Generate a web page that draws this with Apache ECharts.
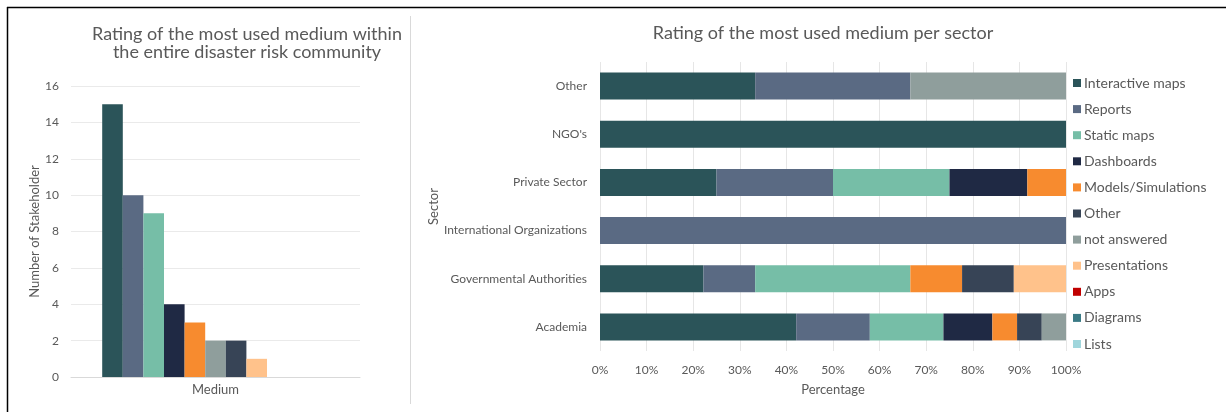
<!DOCTYPE html>
<html>
<head>
<meta charset="utf-8">
<script src="https://cdn.jsdelivr.net/npm/echarts@6/dist/echarts.min.js"></script>
<style>
  html, body { margin: 0; padding: 0; background: #ffffff; }
  #chart { width: 1226px; height: 412px; }
</style>
</head>
<body>
<div id="chart"></div>
<script>
// Media types (series) and their colours
const mediaNames = ['Interactive maps', 'Reports', 'Static maps', 'Dashboards', 'Models/Simulations',
  'Other', 'not answered', 'Presentations', 'Apps', 'Diagrams', 'Lists'];
const mediaColors = ['#2b5459', '#5a6a83', '#76bea7', '#1f2944', '#f78b2f',
  '#374456', '#8f9e9c', '#ffc28b', '#c00000', '#3a7a85', '#a0d6dc'];

// Left chart: number of stakeholders per medium (bar order as drawn)
const overallOrder = ['Interactive maps', 'Reports', 'Static maps', 'Dashboards', 'Models/Simulations',
  'not answered', 'Other', 'Presentations', 'Apps', 'Diagrams', 'Lists'];
const overallCounts = [15, 10, 9, 4, 3, 2, 2, 1, 0, 0, 0];
const countTicks = { min: 0, max: 16, interval: 2 };

// Right chart: share (%) of each medium per sector, bottom to top
const sectors = ['Academia', 'Governmental Authorities', 'International Organizations',
  'Private Sector', "NGO's", 'Other'];
const interactiveMaps = [42.1, 22.2, 0, 25, 100, 33.3];
const reports         = [15.8, 11.1, 100, 25, 0, 33.3];
const staticMaps      = [15.8, 33.3, 0, 25, 0, 0];
const dashboards      = [10.5, 0, 0, 16.7, 0, 0];
const models          = [5.3, 11.1, 0, 8.3, 0, 0];
const otherMedium     = [5.3, 11.1, 0, 0, 0, 0];
const notAnswered     = [5.2, 0, 0, 0, 0, 33.4];
const presentations   = [0, 11.2, 0, 0, 0, 0];
const apps            = [0, 0, 0, 0, 0, 0];
const diagrams        = [0, 0, 0, 0, 0, 0];
const lists           = [0, 0, 0, 0, 0, 0];
const sectorShares = [interactiveMaps, reports, staticMaps, dashboards, models,
  otherMedium, notAnswered, presentations, apps, diagrams, lists];

const FONT = 'Lato, "Open Sans", sans-serif';
const TXT = '#595959';
const colorOf = name => mediaColors[mediaNames.indexOf(name)];

const series = [];
overallOrder.forEach((name, i) => {
  series.push({
    type: 'bar', name: name, xAxisIndex: 0, yAxisIndex: 0,
    data: [overallCounts[i]], barWidth: 20.6, barGap: '0%',
    itemStyle: { color: colorOf(name) }, silent: true
  });
});
mediaNames.forEach((name, i) => {
  series.push({
    type: 'bar', name: name, xAxisIndex: 1, yAxisIndex: 1, stack: 'sector',
    data: sectorShares[i], barCategoryGap: '44%',
    itemStyle: { color: mediaColors[i] }, silent: true
  });
});

const chart = echarts.init(document.getElementById('chart'), null, { renderer: 'canvas' });
chart.setOption({
  animation: false,
  textStyle: { fontFamily: FONT, color: TXT },
  title: [
    { text: 'Rating of the most used medium within\nthe entire disaster risk community',
      left: 242, top: 20, textAlign: 'center',
      textStyle: { fontFamily: FONT, fontSize: 18, fontWeight: 'normal', color: TXT, lineHeight: 18 } },
    { text: 'Rating of the most used medium per sector',
      left: 818, top: 19, textAlign: 'center',
      textStyle: { fontFamily: FONT, fontSize: 18, fontWeight: 'normal', color: TXT } }
  ],
  legend: {
    orient: 'vertical', left: 1068, top: 71,
    itemWidth: 8, itemHeight: 8, itemGap: 12.1, icon: 'rect',
    data: mediaNames,
    textStyle: { fontFamily: FONT, fontSize: 14, color: TXT, padding: [0, 0, 0, -2] },
    selectedMode: false
  },
  grid: [
    { left: 71, top: 86, width: 289, height: 291 },
    { left: 600, top: 62, width: 466, height: 289 }
  ],
  xAxis: [
    { type: 'category', gridIndex: 0, data: ['Medium'],
      axisLine: { lineStyle: { color: '#d9d9d9' } }, axisTick: { show: false },
      axisLabel: { fontFamily: FONT, fontSize: 13, color: TXT, margin: 6 } },
    { type: 'value', gridIndex: 1, min: 0, max: 100, interval: 10,
      name: 'Percentage', nameLocation: 'middle', nameGap: 32,
      nameTextStyle: { fontFamily: FONT, fontSize: 13, color: TXT },
      axisLine: { show: false }, axisTick: { show: false },
      splitLine: { lineStyle: { color: '#e6e6e6' } },
      axisLabel: { formatter: '{value}%', fontFamily: FONT, fontSize: 12, color: TXT, margin: 13 } }
  ],
  yAxis: [
    { type: 'value', gridIndex: 0, min: countTicks.min, max: countTicks.max, interval: countTicks.interval,
      name: 'Number of Stakeholder', nameLocation: 'middle', nameGap: 30, nameRotate: 90,
      nameTextStyle: { fontFamily: FONT, fontSize: 13, color: TXT },
      axisLine: { show: false }, axisTick: { show: false },
      splitLine: { lineStyle: { color: '#eaeaea' } },
      axisLabel: { fontFamily: FONT, fontSize: 12, color: TXT, margin: 12 } },
    { type: 'category', gridIndex: 1, data: sectors,
      name: 'Sector', nameLocation: 'middle', nameGap: 153, nameRotate: 90,
      nameTextStyle: { fontFamily: FONT, fontSize: 13, color: TXT },
      axisLine: { show: false }, axisTick: { show: false },
      axisLabel: { fontFamily: FONT, fontSize: 12, color: TXT, margin: 13 } }
  ],
  graphic: [
    { type: 'line', shape: { x1: 7, y1: 7.5, x2: 1226, y2: 7.5 }, style: { stroke: '#000', lineWidth: 1.5 }, silent: true },
    { type: 'line', shape: { x1: 7.5, y1: 7, x2: 7.5, y2: 412 }, style: { stroke: '#000', lineWidth: 1.5 }, silent: true },
    { type: 'line', shape: { x1: 410.5, y1: 16, x2: 410.5, y2: 404 }, style: { stroke: '#d9d9d9', lineWidth: 1 }, silent: true }
  ],
  series: series
});
</script>
</body>
</html>
